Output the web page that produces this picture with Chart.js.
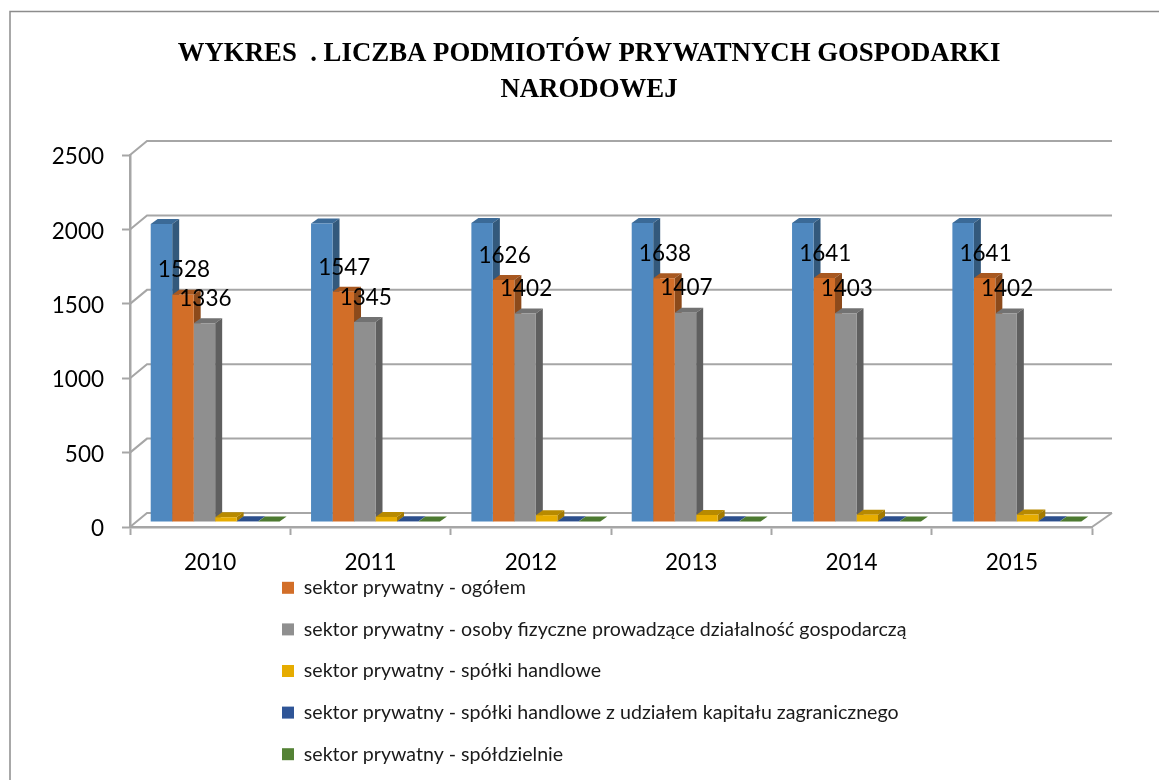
<!DOCTYPE html>
<html>
<head>
<meta charset="utf-8">
<title>Wykres</title>
<script src="https://cdn.jsdelivr.net/npm/chart.js@4"></script>
<style>
  body { margin: 0; background: #fff; overflow: hidden; }
  canvas { display: block; }
</style>
</head>
<body>
<canvas id="myChart" width="1159" height="780"></canvas>
<script>
const years = ['2010', '2011', '2012', '2013', '2014', '2015'];
const seriesNames = [
    'sektor prywatny',
    'sektor prywatny - ogółem',
    'sektor prywatny - osoby fizyczne prowadzące działalność gospodarczą',
    'sektor prywatny - spółki handlowe',
    'sektor prywatny - spółki handlowe z udziałem kapitału zagranicznego',
    'sektor prywatny - spółdzielnie'
];
const total = [2004, 2006, 2010, 2010, 2010, 2010];
const general = [1528, 1547, 1626, 1638, 1641, 1641];
const persons = [1336, 1345, 1402, 1407, 1403, 1402];
const companies = [32, 34, 46, 47, 49, 50];
const foreign = [5, 5, 5, 5, 5, 5];
const coops = [3, 3, 3, 3, 3, 3];
const titleLines = ['WYKRES  . LICZBA PODMIOTÓW PRYWATNYCH GOSPODARKI', 'NARODOWEJ'];

const front = ['#4f88bf', '#d26e28', '#8f8f8f', '#e6ac00', '#2f5597', '#548235'];
const side = ['#33597c', '#8c4a1b', '#5f5f5f', '#a37a00', '#223e6e', '#3c5e26'];
const topFace = ['#3b6a97', '#a85820', '#727272', '#b88a00', '#2c4f8c', '#4d7a31'];
const values = [total, general, persons, companies, foreign, coops];
const lineColor = '#a6a6a6';

// how far the bars and the walls are pushed back
const wallDx = 17, wallDy = 14;
const barShift = 5, barDx = 7, barDy = 5;

const sketch3d = {
    id: 'sketch3d',
    afterLayout(chart) {
        let legend = chart.legend;
        let pad = legend.options.labels.padding;
        legend.left = 282 - pad;
        legend.right = legend.left + 700;
        legend.top = 578 - pad;
        legend.bottom = 820;
        chart.titleBlock.left = 19;
        chart.titleBlock.right = 1159;
    },
    beforeDatasetsDraw(chart) {
        const ctx = chart.ctx;
        const y = chart.scales.y;
        const area = chart.chartArea;
        ctx.save();
        ctx.strokeStyle = lineColor;
        ctx.lineWidth = 2;
        for (let t of y.ticks) {
            let py = y.getPixelForValue(t.value);
            ctx.beginPath();
            ctx.moveTo(area.left, py);
            ctx.lineTo(area.left + wallDx, py - wallDy);
            ctx.lineTo(area.right + wallDx + 3, py - wallDy);
            ctx.stroke();
        }
        let base = y.getPixelForValue(0);
        ctx.beginPath();
        ctx.moveTo(area.right, base);
        ctx.lineTo(area.right + wallDx + 3, base - wallDy);
        ctx.stroke();

        // top and side faces go first, left to right, the fronts cover them afterwards
        ctx.translate(barShift, -barShift);
        values.forEach((v, idx) => {
            for (let el of chart.getDatasetMeta(idx).data) {
                let x1 = el.x + el.width / 2;
                let x0 = el.x - el.width / 2;
                ctx.fillStyle = topFace[idx];
                ctx.beginPath();
                ctx.moveTo(x0, el.y);
                ctx.lineTo(x0 + barDx, el.y - barDy);
                ctx.lineTo(x1 + barDx, el.y - barDy);
                ctx.lineTo(x1, el.y);
                ctx.closePath();
                ctx.fill();
                ctx.fillStyle = side[idx];
                ctx.beginPath();
                ctx.moveTo(x1, el.y);
                ctx.lineTo(x1 + barDx, el.y - barDy);
                ctx.lineTo(x1 + barDx, el.base - barDy);
                ctx.lineTo(x1, el.base);
                ctx.closePath();
                ctx.fill();
            }
        });
        ctx.restore();
    },
    beforeDatasetDraw(chart) {
        chart.ctx.save();
        chart.ctx.translate(barShift, -barShift);
    },
    afterDatasetDraw(chart) {
        chart.ctx.restore();
    },
    afterDatasetsDraw(chart) {
        const ctx = chart.ctx;
        ctx.save();
        ctx.fillStyle = '#000';
        ctx.font = '22.5px Lato';
        ctx.textAlign = 'center';
        ctx.textBaseline = 'middle';
        for (let i of [1, 2]) {
            chart.getDatasetMeta(i).data.forEach((el, j) => {
                ctx.fillText(values[i][j], el.x + barShift + 1, el.y - barShift - 24.5);
            });
        }
        ctx.restore();
    },
    beforeDraw(chart) {
        const ctx = chart.ctx;
        ctx.save();
        ctx.strokeStyle = '#8c8c8c';
        ctx.lineWidth = 1.5;
        ctx.beginPath();
        ctx.moveTo(10, 780);
        ctx.lineTo(10, 11.5);
        ctx.lineTo(1159, 11.5);
        ctx.stroke();
        ctx.restore();
    }
};

const datasets = seriesNames.map((name, i) => ({
    label: name,
    data: values[i],
    backgroundColor: front[i],
    borderWidth: 0,
    clip: false,
    barPercentage: 1,
    categoryPercentage: 0.804
}));

new Chart(document.getElementById('myChart'), {
    type: 'bar',
    data: { labels: years, datasets: datasets },
    plugins: [sketch3d],
    options: {
        responsive: false,
        animation: false,
        layout: { padding: { left: 10, right: 67, top: 0, bottom: 193 } },
        plugins: {
            tooltip: { enabled: false },
            title: {
                display: true,
                text: titleLines,
                color: '#000',
                font: { family: 'Liberation Serif', size: 26.8, weight: 'bold', lineHeight: 1.345 },
                padding: { top: 36, bottom: 47 }
            },
            legend: {
                position: 'chartArea',
                align: 'start',
                labels: {
                    color: '#1a1a1a',
                    font: { family: 'Lato', size: 19.6 },
                    boxWidth: 12,
                    boxHeight: 12,
                    padding: 22,
                    filter: (item) => item.datasetIndex > 0
                }
            }
        },
        scales: {
            x: {
                grid: { drawOnChartArea: false, color: lineColor, tickColor: lineColor, tickLength: 8, tickWidth: 2 },
                border: { color: lineColor, width: 2.5 },
                ticks: { color: '#000', font: { family: 'Lato', size: 22.5 }, padding: 14, maxRotation: 0 },
                afterFit(scale) { scale.height = 60; }
            },
            y: {
                min: 0,
                max: 2500,
                grid: { drawOnChartArea: false, color: lineColor, tickColor: lineColor, tickLength: 8, tickWidth: 2 },
                border: { color: lineColor, width: 2.5 },
                ticks: { color: '#000', font: { family: 'Lato', size: 22.5 }, padding: 18, stepSize: 500, labelOffset: 2, callback: (v) => String(v) },
                afterFit(scale) { scale.width = 120; }
            }
        }
    }
});
</script>
</body>
</html>
